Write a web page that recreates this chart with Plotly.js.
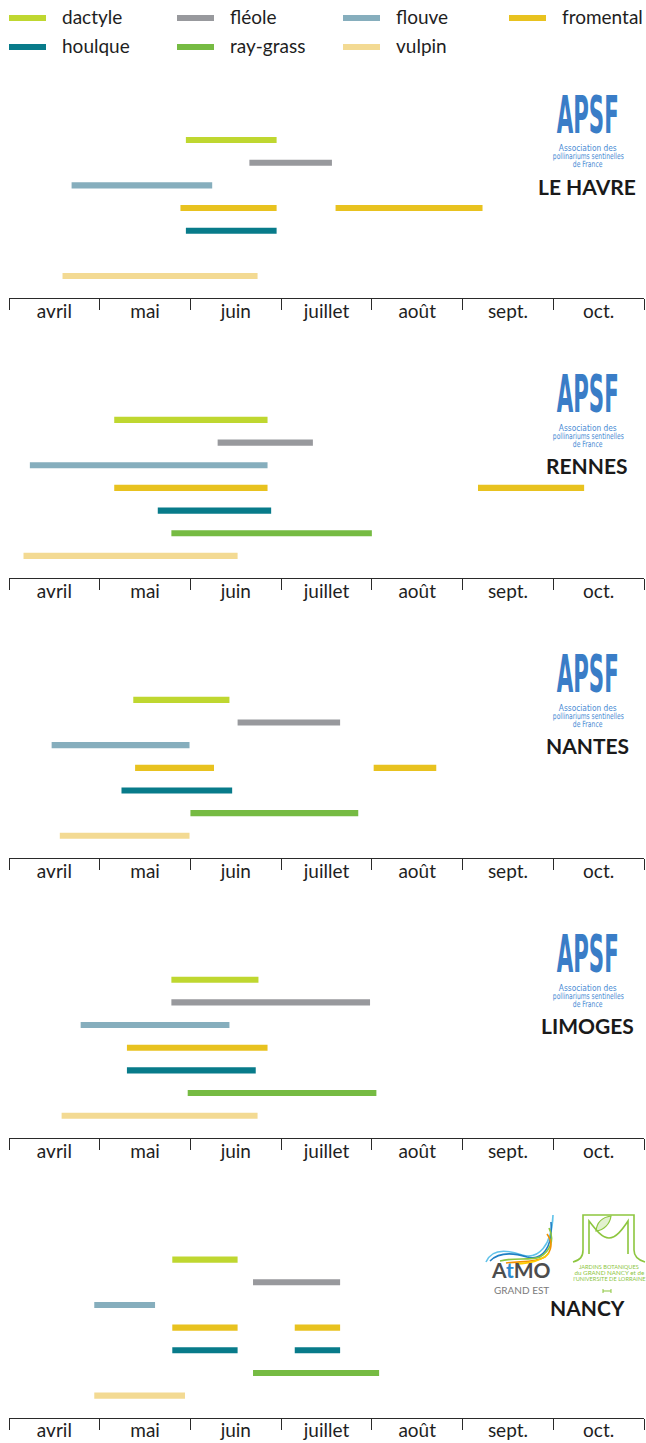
<!DOCTYPE html>
<html><head><meta charset="utf-8">
<script src="https://cdn.plot.ly/plotly-3.0.1.min.js"></script>
<style>html,body{margin:0;padding:0;background:#fff}</style>
</head><body>
<div id="chart" style="width:646px;height:1443px"></div>
<script>
// ---- data ----
const species = ['dactyle','fléole','flouve','fromental','houlque','ray-grass','vulpin'];
const colors  = ['#bfd730','#98999d','#86aebd','#e8c21f','#087b8a','#76bb43','#f3da93'];
const months  = ['avril','mai','juin','juillet','août','sept.','oct.'];
const cities  = ['LE HAVRE','RENNES','NANTES','LIMOGES','NANCY'];
// start / end of each pollen period, in months since 1 April
const leHavreDebut  = [[1.95],[2.65],[0.69],[1.89,3.60],[1.95],[],[0.59]];
const leHavreFin    = [[2.95],[3.56],[2.24],[2.95,5.22],[2.95],[],[2.74]];
const rennesDebut   = [[1.16],[2.30],[0.23],[1.16,5.17],[1.64],[1.79],[0.16]];
const rennesFin     = [[2.85],[3.35],[2.85],[2.85,6.34],[2.89],[4.00],[2.52]];
const nantesDebut   = [[1.37],[2.52],[0.47],[1.39,4.02],[1.24],[2.00],[0.56]];
const nantesFin     = [[2.43],[3.65],[1.99],[2.26,4.71],[2.46],[3.85],[1.99]];
const limogesDebut  = [[1.79],[1.79],[0.79],[1.30],[1.30],[1.97],[0.58]];
const limogesFin    = [[2.75],[3.98],[2.43],[2.85],[2.72],[4.05],[2.74]];
const nancyDebut    = [[1.80],[2.69],[0.94],[1.80,3.15],[1.80,3.15],[2.69],[0.94]];
const nancyFin      = [[2.52],[3.65],[1.61],[2.52,3.65],[2.52,3.65],[4.08],[1.94]];
const debuts = [leHavreDebut, rennesDebut, nantesDebut, limogesDebut, nancyDebut];
const fins   = [leHavreFin, rennesFin, nantesFin, limogesFin, nancyFin];

// ---- layout helpers ----
const W = 646, H = 1443;
const px = x => x / W;
const py = y => 1 - y / H;
const FONT = 'Lato, "Open Sans", sans-serif';

const traces = [];
const layout = {
  width: W, height: H,
  margin: {l: 0, r: 0, t: 0, b: 0},
  paper_bgcolor: '#fff', plot_bgcolor: '#fff',
  showlegend: false, barmode: 'overlay',
  shapes: [], annotations: [],
  font: {family: FONT, color: '#1e1e1e'}
};

for (let k = 0; k < 5; k++) {
  const axisPx = 298 + 279.9 * k;
  const topPx = axisPx - 182;
  const sfx = k === 0 ? '' : String(k + 1);
  layout['xaxis' + sfx] = {
    domain: [px(9), px(644)], anchor: 'y' + sfx, range: [0, 7], fixedrange: true,
    showgrid: false, zeroline: false, showline: true, linecolor: '#2a2a2a', linewidth: 1,
    tickmode: 'array', tickvals: months.map((m, i) => i + 0.5), ticktext: months,
    ticks: '', ticklabelstandoff: -4, tickfont: {family: FONT, size: 19, color: '#1e1e1e'},
    minor: {tickmode: 'array', tickvals: [0,1,2,3,4,5,6,7], ticks: 'outside', ticklen: 11,
            tickwidth: 1, tickcolor: '#2a2a2a', showgrid: false},
    automargin: false
  };
  layout['yaxis' + sfx] = {
    domain: [py(axisPx), py(topPx)], anchor: 'x' + sfx,
    range: [6.97, -1.06], fixedrange: true, visible: false, showgrid: false, zeroline: false
  };
  species.forEach((sp, s) => {
    const d = debuts[k][s], f = fins[k][s];
    if (!d.length) return;
    traces.push({
      type: 'bar', orientation: 'h', name: sp,
      y: d.map(() => s), base: d, x: d.map((v, i) => f[i] - v),
      width: 0.27, marker: {color: colors[s], line: {width: 0}},
      xaxis: 'x' + sfx, yaxis: 'y' + sfx, hoverinfo: 'skip'
    });
  });
  // city name
  layout.annotations.push({
    xref: 'paper', yref: 'paper', x: px(587), y: py(axisPx - 112 + (k === 4 ? 2 : 0)),
    text: '<b>' + cities[k] + '</b>', showarrow: false, xanchor: 'center', yanchor: 'middle',
    font: {family: FONT, size: 21, color: '#1a1a1a'}
  });
  if (k < 4) {
    // APSF logo (text)
    layout.annotations.push({
      xref: 'paper', yref: 'paper', x: px(588), y: py(axisPx - 183),
      text: '<b>APSF</b>', showarrow: false, xanchor: 'center', yanchor: 'middle',
      font: {family: '"Liberation Sans Narrow", "DejaVu Sans Condensed", sans-serif', size: 51, color: '#3a7dc7'}
    });
    ['Association des', 'pollinariums sentinelles', 'de France'].forEach((t, j) => {
      layout.annotations.push({
        xref: 'paper', yref: 'paper', x: px(588), y: py(axisPx - 150 + 8 * j),
        text: t, showarrow: false, xanchor: 'center', yanchor: 'middle',
        font: {family: '"Liberation Sans Narrow", "DejaVu Sans Condensed", sans-serif', size: 8.5, color: '#4a8cd4'}
      });
    });
  }
}

// ---- legend (custom) ----
const legCols = [9, 177, 343, 509];
const legRows = [18, 47];
species.forEach((sp, s) => {
  const c = s % 4, r = Math.floor(s / 4);
  const x0 = legCols[c], yy = legRows[r];
  layout.shapes.push({type: 'line', xref: 'paper', yref: 'paper',
    x0: px(x0), x1: px(x0 + 37), y0: py(yy), y1: py(yy),
    line: {color: colors[s], width: 6}});
  layout.annotations.push({xref: 'paper', yref: 'paper', x: px(x0 + 51), y: py(yy - 1),
    text: sp, showarrow: false, xanchor: 'left', yanchor: 'middle',
    font: {family: FONT, size: 19, color: '#1e1e1e'}});
});

// ---- NANCY logos ----
function pth(cmds) {
  return cmds.map(c => c[0] + ' ' + c.slice(1).map((v, i) => (i % 2 === 0 ? px(v) : py(v)).toFixed(5)).join(' ')).join(' ');
}
function addPath(cmds, color, width, fill) {
  layout.shapes.push({type: 'path', xref: 'paper', yref: 'paper', path: pth(cmds),
    line: {color: color, width: width}, fillcolor: fill || 'rgba(0,0,0,0)'});
}
// AtMO swooshes
addPath([['M',486,1262],['C',492,1248,508,1250,522,1255],['C',538,1260,552,1246,553,1215]], '#62c3ea', 1.6);
addPath([['M',490,1261],['C',500,1251,514,1253,527,1257],['C',542,1261,553,1248,551,1222]], '#1f7fc4', 1.6);
addPath([['M',500,1261],['C',515,1257,530,1261,540,1257],['C',550,1251,555,1240,549,1228]], '#8cc63f', 1.6);
addPath([['M',506,1263],['C',520,1261,535,1263,545,1257],['C',552,1251,553,1242,547,1234]], '#f39200', 1.6);
addPath([['M',516,1264],['C',530,1263,542,1261,549,1253]], '#fecc00', 1.6);
layout.annotations.push({xref: 'paper', yref: 'paper', x: px(521), y: py(1269),
  text: '<b>A<span style="color:#2b8bd0">t</span>MO</b>', showarrow: false, xanchor: 'center', yanchor: 'middle',
  font: {family: FONT, size: 21, color: '#4d4d4d'}});
layout.annotations.push({xref: 'paper', yref: 'paper', x: px(521), y: py(1290),
  text: 'GRAND EST', showarrow: false, xanchor: 'center', yanchor: 'middle',
  font: {family: FONT, size: 10, color: '#7a7a7a'}});
// Jardins botaniques logo
const JG = '#8dc63f';
addPath([['M',573,1262],['C',580,1260,583,1257,583,1250],['L',583,1215],['L',634,1215],['L',634,1250],['C',634,1257,638,1260,645,1262]], JG, 1.6);
addPath([['M',589,1254],['L',589,1221],['C',596,1230,602,1238,609,1238],['C',616,1238,622,1230,628,1221],['L',628,1254]], JG, 1.6);
addPath([['M',596,1231],['C',597,1221,604,1217,611,1216],['C',610,1224,604,1230,596,1231],['Z']], JG, 1.2, 'rgba(141,198,63,0.25)');
['JARDINS BOTANIQUES', 'du GRAND NANCY et de', "l'UNIVERSITE DE LORRAINE"].forEach((t, j) => {
  layout.annotations.push({xref: 'paper', yref: 'paper', x: px(609), y: py(1266 + 6 * j),
    text: t, showarrow: false, xanchor: 'center', yanchor: 'middle',
    font: {family: FONT, size: 6, color: JG}});
});
addPath([['M',603,1291],['L',611,1291],['M',603,1289],['L',603,1293],['M',611,1289],['L',611,1293]], JG, 1);

Plotly.newPlot('chart', traces, layout, {staticPlot: true, displayModeBar: false}).then(() => {
  const fit = (txt, target) => {
    document.querySelectorAll('text.annotation-text').forEach(el => {
      if (el.textContent === txt) {
        const w = el.getBBox().width;
        if (w > 0) {
          el.style.transformBox = 'fill-box';
          el.style.transformOrigin = 'center';
          el.style.transform = 'scaleX(' + (target / w).toFixed(3) + ')';
        }
      }
    });
  };
  fit('APSF', 62);
  fit('Association des', 58);
  fit('pollinariums sentinelles', 71);
  fit('de France', 30);
  fit("l'UNIVERSITE DE LORRAINE", 73);
  fit('du GRAND NANCY et de', 70);
  fit('JARDINS BOTANIQUES', 60);
});
</script>
</body></html>
